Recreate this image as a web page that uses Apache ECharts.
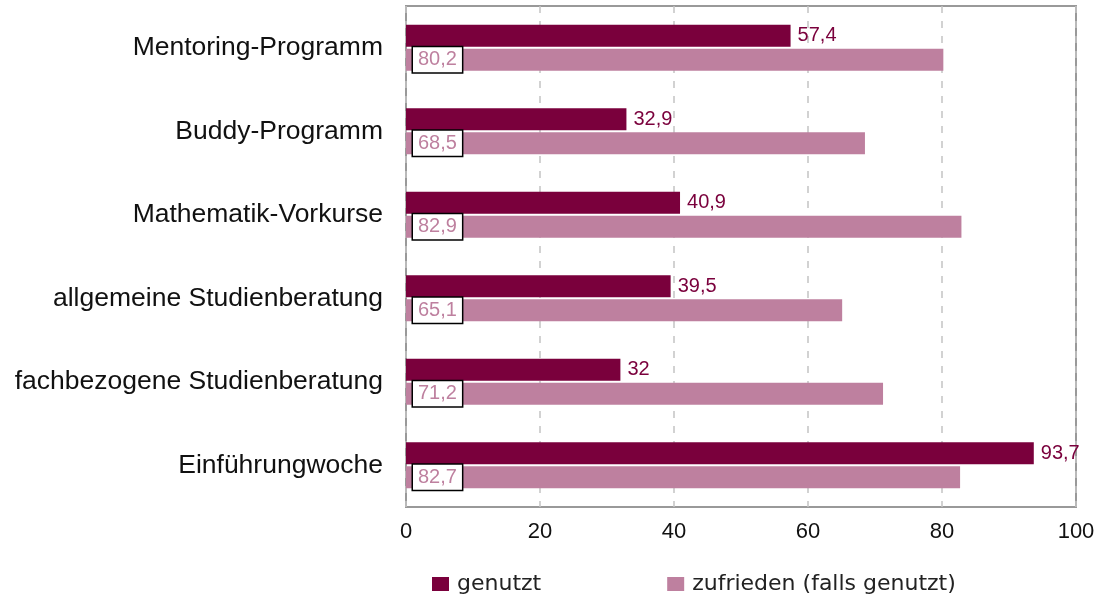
<!DOCTYPE html>
<html lang="de">
<head>
    <meta charset="UTF-8">
    <title>Angebote: genutzt / zufrieden</title>
    <script src="https://cdn.jsdelivr.net/npm/echarts@6/dist/echarts.min.js"></script>
    <style>
        html, body {
            margin: 0;
            padding: 0;
            background: #ffffff;
        }
        #chart {
            width: 1101px;
            height: 596px;
        }
    </style>
</head>
<body>
    <div id="chart"></div>
    <script>
        // Data
        const categories = [
            'Mentoring-Programm',
            'Buddy-Programm',
            'Mathematik-Vorkurse',
            'allgemeine Studienberatung',
            'fachbezogene Studienberatung',
            'Einführungwoche'
        ];
        const seriesNames = ['genutzt', 'zufrieden (falls genutzt)'];
        const genutzt = [57.4, 32.9, 40.9, 39.5, 32, 93.7];
        const zufrieden = [80.2, 68.5, 82.9, 65.1, 71.2, 82.7];

        const darkColor = '#7a003c';
        const lightColor = '#be809f';

        // German decimal comma
        const fmt = p => String(p.value).replace('.', ',');

        const chart = echarts.init(document.getElementById('chart'));
        chart.setOption({
            animation: false,
            grid: {
                left: 406,
                right: 25,
                top: 6,
                bottom: 89,
                show: true,
                borderColor: '#999999',
                borderWidth: 2
            },
            legend: {
                data: seriesNames,
                left: 432,
                top: 573,
                padding: 0,
                icon: 'rect',
                itemWidth: 17,
                itemHeight: 14,
                itemGap: 126,
                textStyle: {
                    fontFamily: 'DejaVu Sans',
                    fontSize: 22,
                    color: '#222222',
                    padding: [0, 0, 0, 3]
                }
            },
            xAxis: {
                type: 'value',
                min: 0,
                max: 100,
                interval: 20,
                axisLine: { show: false },
                axisTick: { show: false },
                axisLabel: {
                    margin: 14,
                    fontFamily: 'Liberation Sans',
                    fontSize: 22,
                    color: '#111111'
                },
                splitLine: {
                    show: true,
                    lineStyle: { color: '#c4c4c4', width: 1.5, type: [7, 8] }
                }
            },
            yAxis: {
                type: 'category',
                data: categories,
                inverse: true,
                axisLine: { show: false },
                axisTick: { show: false },
                axisLabel: {
                    margin: 23,
                    fontFamily: 'Liberation Sans',
                    fontSize: 26.5,
                    color: '#111111'
                }
            },
            series: [
                {
                    name: seriesNames[0],
                    type: 'bar',
                    data: genutzt,
                    barWidth: 22,
                    barGap: '10%',
                    itemStyle: { color: darkColor },
                    label: {
                        show: true,
                        position: 'right',
                        distance: 7,
                        formatter: fmt,
                        fontFamily: 'Liberation Sans',
                        fontSize: 20,
                        color: darkColor
                    }
                },
                {
                    name: seriesNames[1],
                    type: 'bar',
                    data: zufrieden,
                    barWidth: 22,
                    itemStyle: { color: lightColor },
                    label: {
                        show: true,
                        position: 'insideLeft',
                        distance: 7,
                        formatter: fmt,
                        fontFamily: 'Liberation Sans',
                        fontSize: 20,
                        color: lightColor,
                        backgroundColor: '#ffffff',
                        borderColor: '#000000',
                        borderWidth: 1.5,
                        padding: [3, 5, 2, 5]
                    }
                }
            ]
        });
    </script>
</body>
</html>
